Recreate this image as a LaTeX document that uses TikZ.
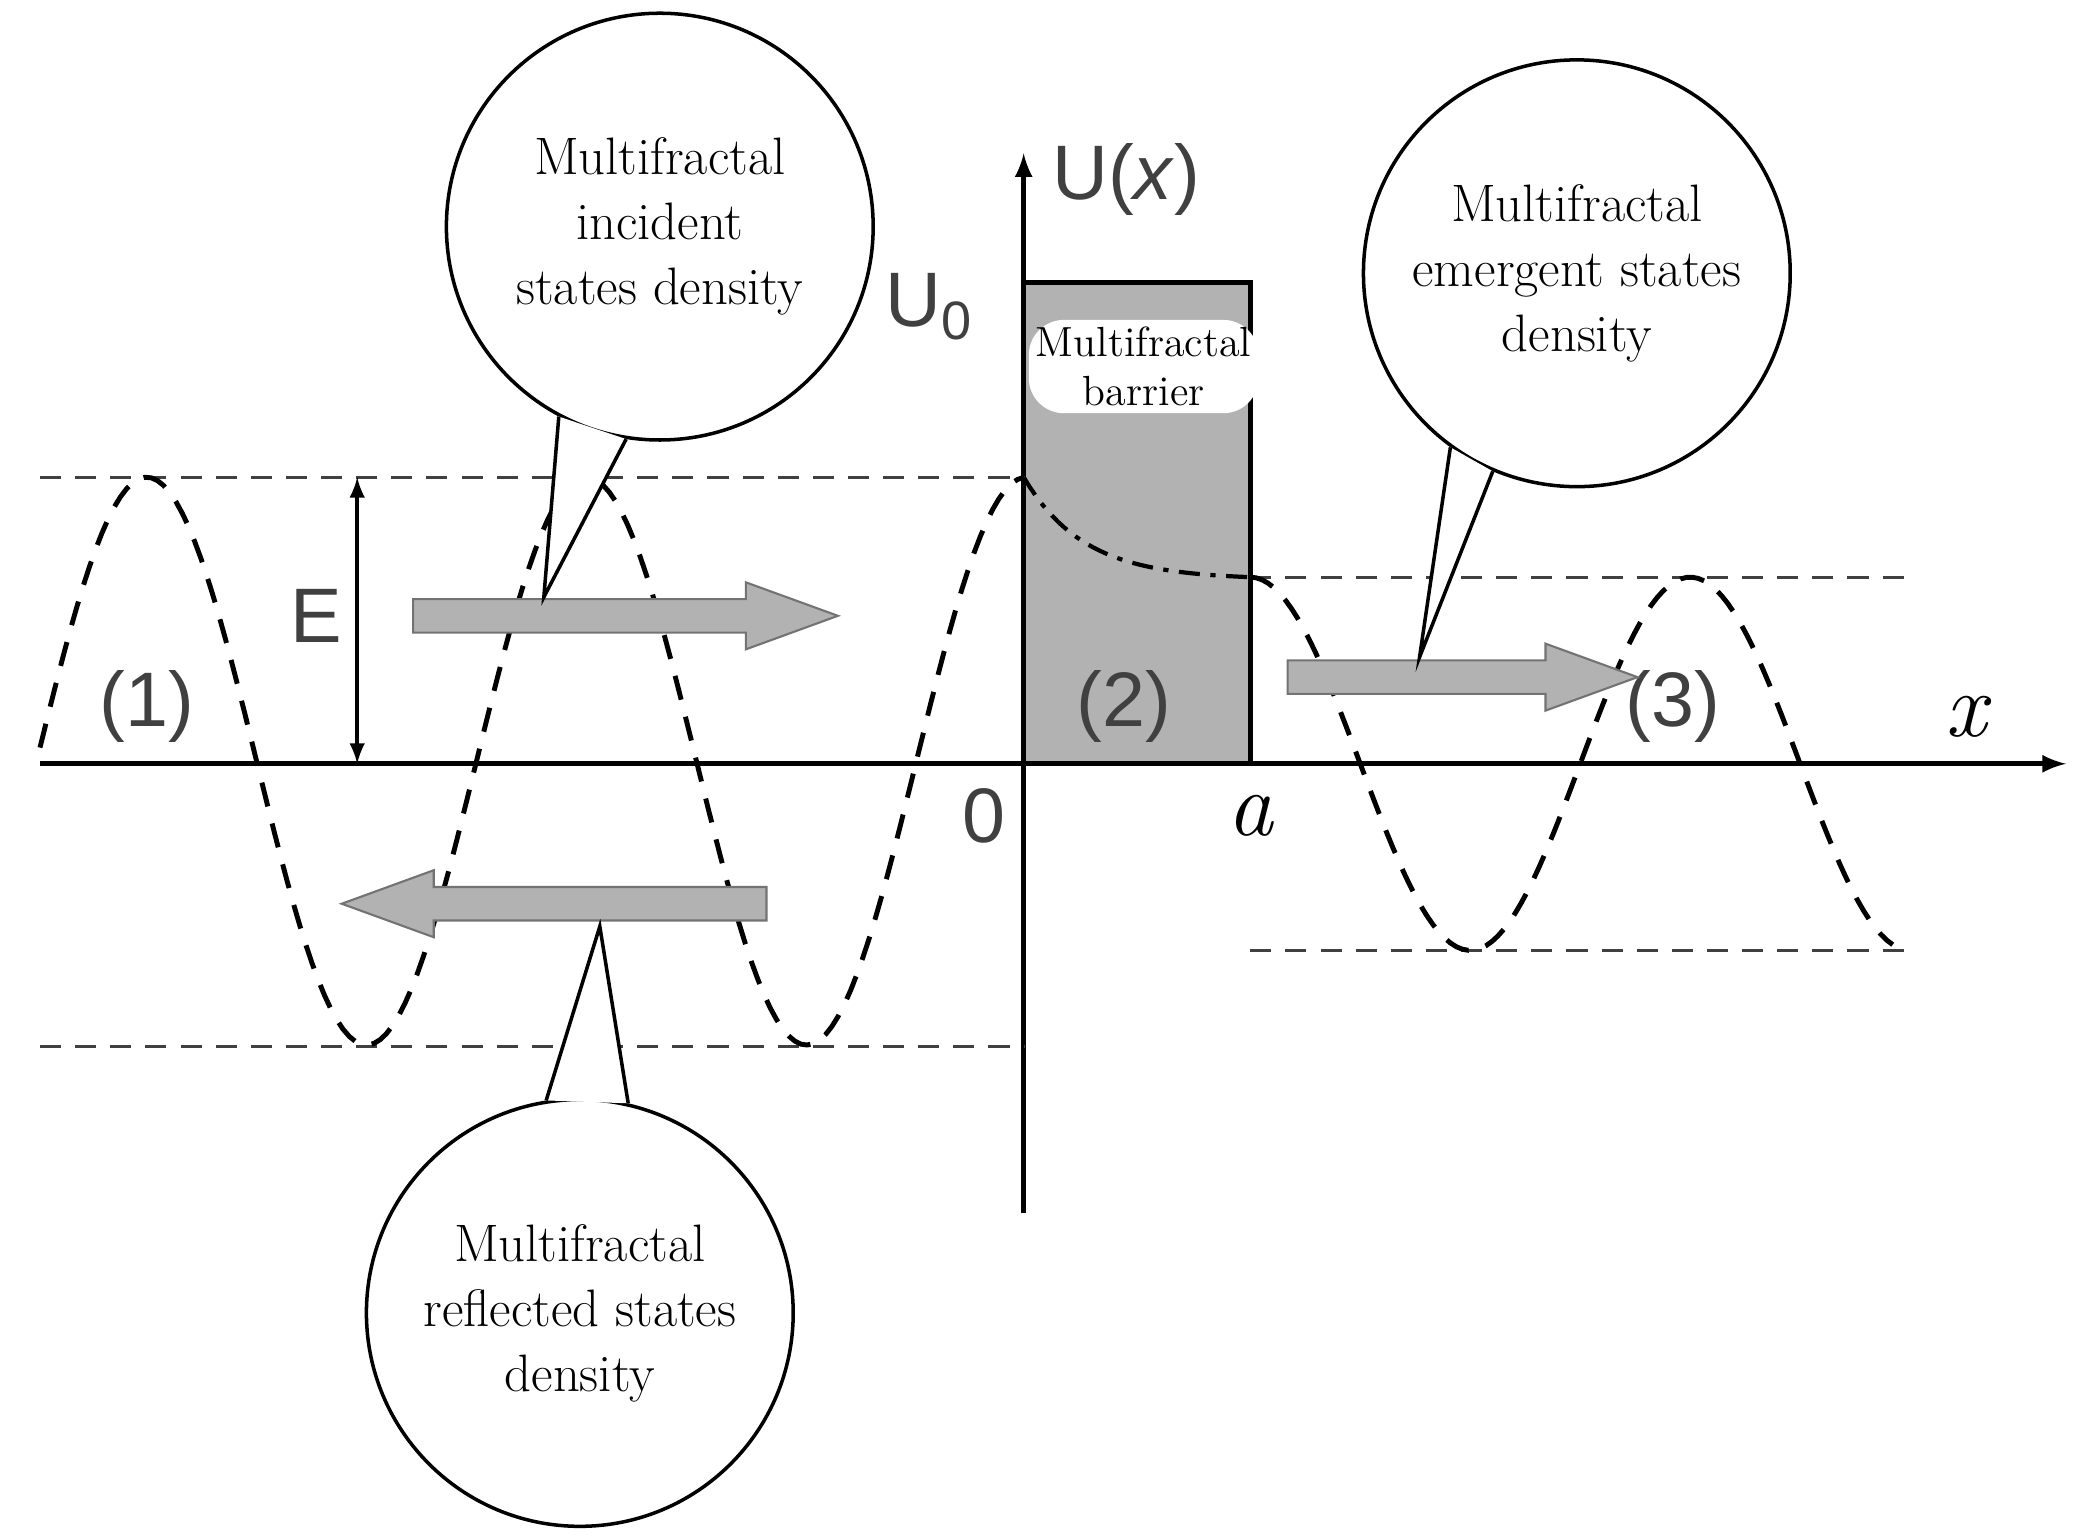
\documentclass[tikz,border=0pt]{standalone}
\usepackage{fontspec}
\newfontfamily\sansf{Liberation Sans}
\usetikzlibrary{shapes.arrows}
\tikzset{
  balloon/.style={circle,draw,line width=1pt,fill=white,minimum size=4.27cm,align=center,font=\fontsize{15}{18.5}\selectfont},
  flow/.style={single arrow,draw=black!55,fill=black!30,line width=0.6pt,minimum height=4.25cm,minimum width=0.67cm,inner sep=0.15cm,single arrow head extend=0.16cm,single arrow tip angle=40},
  lbl/.style={font=\sansf\fontsize{22}{22}\selectfont,text=black!75},
  level/.style={dashed,line width=0.8pt,black!75,dash pattern=on 6pt off 4pt},
  wave/.style={line width=1.4pt,dash pattern=on 7pt off 5pt}
}
\begin{document}
\begin{tikzpicture}[x=0.01333cm,y=-0.01333cm]
\useasboundingbox (0,0) rectangle (1568,1155);
% barrier
\fill[black!30] (768,212) rectangle (938,573);
\draw[line width=1.5pt] (768,573) -- (768,212) -- (938,212) -- (938,573);
\node[fill=white,rounded corners=10pt,inner sep=2pt,align=center,font=\fontsize{12}{14}\selectfont] (bar) at (858,275) {Multifractal\\barrier};
% axes
\coordinate (xl) at (30,573);
\coordinate (xr) at (1550,573);
\coordinate (ub) at (768,910);
\coordinate (ut) at (768,115);
\draw[line width=1.3pt,-latex] (xl) -- (xr);
\draw[line width=1.3pt,-latex] (ub) -- (ut);
% levels
\draw[level] (30,358) -- (768,358);
\draw[level] (30,785) -- (768,785);
\draw[level] (938,433) -- (1430,433);
\draw[level] (938,713) -- (1430,713);
% waves
\draw[wave] plot[domain=30:768,samples=160] (\x,{571-213*cos(1.0909*(\x-110))});
\draw[wave] plot[domain=938:1420,samples=110] (\x,{573-140*cos(1.0909*(\x-938))});
\draw[line width=1.2pt,dash pattern=on 6pt off 3pt on 1.5pt off 3pt] plot[domain=768:938,samples=40] (\x,{358+75*(1-exp(-(\x-768)/45))/(1-exp(-170/45))});
% energy
\coordinate (et) at (268,358);
\coordinate (eb) at (268,573);
\draw[line width=1pt,latex-latex] (et) -- (eb);
\node[lbl] (e) at (237,462) {E};
% labels
\node[lbl] (ux) at (845,135) {U(\textit{x})};
\node[lbl] (u0) at (697,230) {U\textsubscript{0}};
\node[lbl] (o) at (738,612) {0};
\node[font=\fontsize{26}{26}\selectfont\itshape] (a) at (938,612) {a};
\node[font=\fontsize{26}{26}\selectfont\itshape] (xx) at (1475,538) {x};
\node[lbl] (r1) at (110,530) {(1)};
\node[lbl] (r2) at (843,530) {(2)};
\node[lbl] (r3) at (1255,530) {(3)};
% flows
\node[flow] (inc) at (452,462) {};
\node[flow,shape border rotate=180] (ref) at (433,678) {};
\node[flow,minimum height=3.5cm] (emg) at (1080,508) {};
% balloons
\node[balloon] (binc) at (495,170) {Multifractal\\incident\\states density};
\node[balloon] (bref) at (435,985) {Multifractal\\reflected states\\density};
\node[balloon] (bemg) at (1183,205) {Multifractal\\emergent states\\density};
\coordinate (tinc) at (408,448);
\coordinate (tref) at (450,695);
\coordinate (temg) at (1065,493);
\fill[white] (binc.242) -- (tinc) -- (binc.261) -- cycle;
\draw[line width=1pt] (binc.242) -- (tinc) -- (binc.261);
\fill[white] (bref.99) -- (tref) -- (bref.77) -- cycle;
\draw[line width=1pt] (bref.99) -- (tref) -- (bref.77);
\fill[white] (bemg.234) -- (temg) -- (bemg.247) -- cycle;
\draw[line width=1pt] (bemg.234) -- (temg) -- (bemg.247);
\end{tikzpicture}
\end{document}
